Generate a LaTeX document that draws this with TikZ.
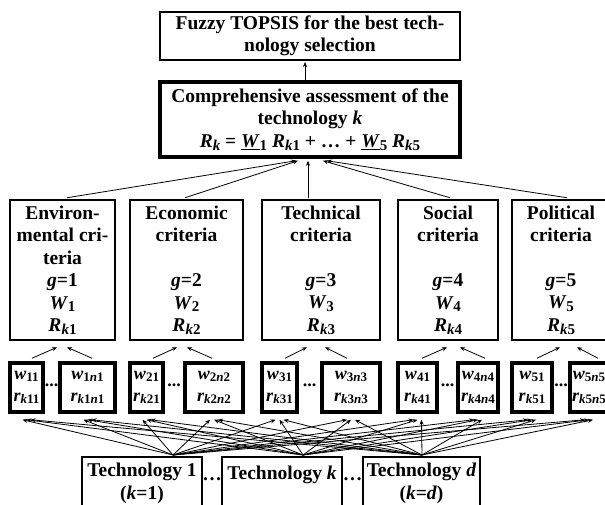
\documentclass[tikz,border=0pt]{standalone}
\usepackage{fontspec}
\setmainfont{Liberation Serif}
\usetikzlibrary{arrows.meta,calc}
\newcommand\bigf{\fontsize{19.5}{22.4}\selectfont\bfseries}
\newcommand\smf{\fontsize{18}{22}\selectfont\bfseries}
\newcommand\sbs[1]{\raisebox{-0.3ex}{\fontsize{15}{15}\selectfont #1}}
\newcommand\ssb[1]{\raisebox{-0.3ex}{\fontsize{13}{13}\selectfont #1}}
\begin{document}
\begin{tikzpicture}[x=1pt,y=-1pt,
  box/.style={draw, rectangle, inner sep=0pt, align=center, font=\bigf},
  sbox/.style={draw, rectangle, inner sep=0pt, align=center, font=\smf, line width=3.5pt, minimum height=49pt},
  crit/.style={box, line width=2.5pt, minimum height=140pt},
  tbox/.style={box, line width=2pt, minimum height=53pt, minimum width=120pt},
  arr/.style={-{Stealth[length=5pt,width=4pt]}, line width=0.8pt},
  dots/.style={font=\smf, anchor=base, inner sep=0pt},
  bdots/.style={font=\bigf, anchor=base, inner sep=0pt}]
\useasboundingbox (0,0) rectangle (605,505);
\begin{scope}
\clip (0,0) rectangle (605,505);
% top boxes
\node[box, line width=2pt, minimum width=300pt, minimum height=48pt] (top) at (310,36)
  {Fuzzy TOPSIS for the best tech-\\nology selection};
\node[box, line width=3.5pt, minimum width=300pt, minimum height=75pt] (comp) at (310,119.5)
  {Comprehensive assessment of the\\technology \textit{k}\\
   \textit{R}\sbs{\textit{k}} = \underline{\textit{W}}\sbs{1} \textit{R}\sbs{\textit{k}1} + \ldots{} + \underline{\textit{W}}\sbs{5} \textit{R}\sbs{\textit{k}5}};
% criteria
\node[crit, minimum width=105pt] (env) at (62.5,270)
  {Environ-\\mental cri-\\teria\\\textit{g}=1\\\textit{W}\sbs{1}\\\textit{R}\sbs{\textit{k}1}};
\node[crit, minimum width=113pt] (econ) at (186.5,270)
  {Economic\\criteria\\\mbox{}\\\textit{g}=2\\\textit{W}\sbs{2}\\\textit{R}\sbs{\textit{k}2}};
\node[crit, minimum width=118pt] (tech) at (321,270)
  {Technical\\criteria\\\mbox{}\\\textit{g}=3\\\textit{W}\sbs{3}\\\textit{R}\sbs{\textit{k}3}};
\node[crit, minimum width=100pt] (soc) at (448,270)
  {Social\\criteria\\\mbox{}\\\textit{g}=4\\\textit{W}\sbs{4}\\\textit{R}\sbs{\textit{k}4}};
\node[crit, minimum width=98pt] (pol) at (561,270)
  {Political\\criteria\\\mbox{}\\\textit{g}=5\\\textit{W}\sbs{5}\\\textit{R}\sbs{\textit{k}5}};
% small boxes
\node[sbox, minimum width=33pt] (w11) at (26.5,387.5) {\textit{w}\ssb{11}\\\textit{r}\ssb{\textit{k}11}};
\node[sbox, minimum width=55pt] (w1n1) at (87.5,387.5) {\textit{w}\ssb{1\textit{n}1}\\\textit{r}\ssb{\textit{k}1\textit{n}1}};
\node[sbox, minimum width=33pt] (w21) at (146.5,387.5) {\textit{w}\ssb{21}\\\textit{r}\ssb{\textit{k}21}};
\node[sbox, minimum width=58pt] (w2n2) at (214,387.5) {\textit{w}\ssb{2\textit{n}2}\\\textit{r}\ssb{\textit{k}2\textit{n}2}};
\node[sbox, minimum width=35pt] (w31) at (279.5,387.5) {\textit{w}\ssb{31}\\\textit{r}\ssb{\textit{k}31}};
\node[sbox, minimum width=58pt] (w3n3) at (351,387.5) {\textit{w}\ssb{3\textit{n}3}\\\textit{r}\ssb{\textit{k}3\textit{n}3}};
\node[sbox, minimum width=39pt] (w41) at (417.5,387.5) {\textit{w}\ssb{41}\\\textit{r}\ssb{\textit{k}41}};
\node[sbox, minimum width=40pt] (w4n4) at (478,387.5) {\textit{w}\ssb{4\textit{n}4}\\\textit{r}\ssb{\textit{k}4\textit{n}4}};
\node[sbox, minimum width=40pt] (w51) at (532,387.5) {\textit{w}\ssb{51}\\\textit{r}\ssb{\textit{k}51}};
\node[sbox, minimum width=38pt] (w5n5) at (589,387.5) {\textit{w}\ssb{5\textit{n}5}\\\textit{r}\ssb{\textit{k}5\textit{n}5}};
\node[dots] (d1) at (51.5,386) {...};
\node[dots] (d2) at (174,386) {...};
\node[dots] (d3) at (309.5,386) {...};
\node[dots] (d4) at (447.5,386) {...};
\node[dots] (d5) at (561,386) {...};
% technology boxes
\node[tbox] (T1) at (142,483.5) {Technology 1\\(\textit{k}=1)};
\node[tbox] (Tk) at (282,483.5) {Technology \textit{k}\\\mbox{}};
\node[tbox, minimum width=117pt] (Td) at (421.5,483.5) {Technology \textit{d}\\(\textit{k}=\textit{d})};
\node[bdots] (e1) at (212,480) {\ldots};
\node[bdots] (e2) at (352.5,480) {\ldots};
% arrows top
\draw[arr] ($(comp.north)+(-5,0)$) -- ($(top.south)+(-5,1)$);
\draw[arr] ($(env.north)+(4.5,-1)$) -- ($(comp.south)+(-14,2)$);
\draw[arr] ($(econ.north)+(-1.5,-1)$) -- ($(comp.south)+(-12,2)$);
\draw[arr] ($(tech.north)+(-13,-1)$) -- ($(comp.south)+(-2,2)$);
\draw[arr] ($(soc.north)+(2,-1)$) -- ($(comp.south)+(13,2)$);
\draw[arr] ($(pol.north)+(6,-1)$) -- ($(comp.south)+(17,2)$);
% small to criteria
\draw[arr] ($(w11.north)+(5.5,-3)$) -- ($(env.south)+(-5.5,6)$);
\draw[arr] ($(w1n1.north)+(4.5,-3)$) -- ($(env.south)+(4.5,6)$);
\draw[arr] ($(w21.north)+(6.5,-3)$) -- ($(econ.south)+(-9.5,6)$);
\draw[arr] ($(w2n2.north)+(-2,-3)$) -- ($(econ.south)+(0.5,6)$);
\draw[arr] ($(w31.north)+(5.5,-3)$) -- ($(tech.south)+(-14,6)$);
\draw[arr] ($(w3n3.north)+(-4,-3)$) -- ($(tech.south)+(4,6)$);
\draw[arr] ($(w41.north)+(4.5,-3)$) -- ($(soc.south)+(-1,6)$);
\draw[arr] ($(w4n4.north)+(7,-3)$) -- ($(soc.south)+(12,6)$);
\draw[arr] ($(w51.north)+(5,-3)$) -- ($(pol.south)+(-1,6)$);
\draw[arr] ($(w5n5.north)+(9,-3)$) -- ($(pol.south)+(16,6)$);
% technologies to small boxes
\foreach \s/\sx/\ex in {T1/31/-4, Tk/21/0, Td/0.5/4}{
  \foreach \t in {w11,w1n1,w21,w2n2,w31,w3n3,w41,w4n4,w51,w5n5}{
    \draw[arr] ($(\s.north)+(\sx,-1)$) -- ($(\t.south)+(\ex,6)$);
  }
}
\end{scope}
\end{tikzpicture}
\end{document}
